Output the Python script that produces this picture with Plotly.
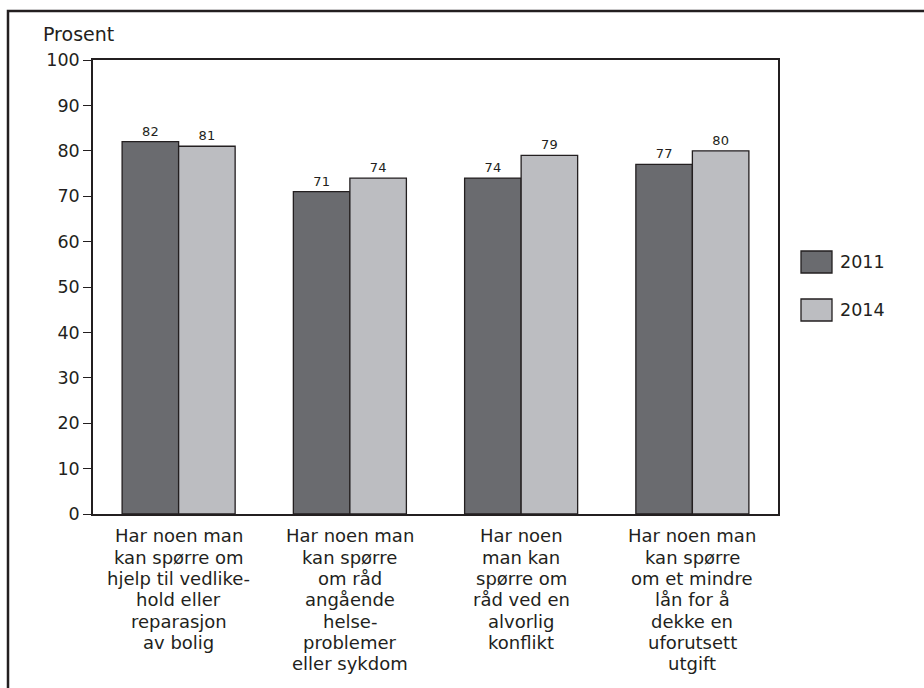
import plotly.graph_objects as go

categories = [
    "Har noen man<br>kan spørre om<br>hjelp til vedlike-<br>hold eller<br>reparasjon<br>av bolig",
    "Har noen man<br>kan spørre<br>om råd<br>angående<br>helse-<br>problemer<br>eller sykdom",
    "Har noen<br>man kan<br>spørre om<br>råd ved en<br>alvorlig<br>konflikt",
    "Har noen man<br>kan spørre<br>om et mindre<br>lån for å<br>dekke en<br>uforutsett<br>utgift",
]
values_2011 = [82, 71, 74, 77]
values_2014 = [81, 74, 79, 80]
series_names = ["2011", "2014"]
yticks = [0, 10, 20, 30, 40, 50, 60, 70, 80, 90, 100]

FONT = "DejaVu Sans, sans-serif"
TXT = "#231f20"
DARK = "#6a6b6f"
LIGHT = "#bcbdc1"

fig = go.Figure()
for name, vals, col in [(series_names[0], values_2011, DARK), (series_names[1], values_2014, LIGHT)]:
    fig.add_trace(go.Bar(
        x=categories, y=vals, name=name,
        marker=dict(color=col, line=dict(color=TXT, width=1.3)),
        text=[str(v) for v in vals], textposition="outside",
        textfont=dict(size=13, color=TXT, family=FONT),
        cliponaxis=False, showlegend=False,
    ))

W, H = 924, 688
L, R, T, B = 93, 146, 60, 174
pw, ph = W - L - R, H - T - B

def px(x):
    return (x - L) / pw

def py(y):
    return (H - B - y) / ph

shapes = [
    dict(type="rect", xref="paper", yref="paper", x0=px(8), x1=px(940), y0=py(705), y1=py(11),
         line=dict(color="#231f20", width=2.5), fillcolor="rgba(0,0,0,0)", layer="below"),
]
annotations = [
    dict(text="Prosent", xref="paper", yref="paper", x=px(41), y=py(34), xanchor="left", yanchor="middle",
         showarrow=False, font=dict(size=19, color=TXT, family=FONT)),
]
for i, (name, col) in enumerate(zip(series_names, [DARK, LIGHT])):
    yc = 262 + i * 48
    shapes.append(dict(type="rect", xref="paper", yref="paper", x0=px(801), x1=px(832),
                       y0=py(yc + 11), y1=py(yc - 11), fillcolor=col, line=dict(color=TXT, width=1.3)))
    annotations.append(dict(text=name, xref="paper", yref="paper", x=px(838), y=py(yc),
                            xanchor="left", yanchor="middle", showarrow=False,
                            font=dict(size=17.5, color=TXT, family=FONT)))

# category labels, one annotation per line for tight line spacing
for cat in categories:
    for k, line in enumerate(cat.split("<br>")):
        annotations.append(dict(text=line, xref="x", yref="paper", x=cat, y=py(535.8 + 21.3 * k),
                                xanchor="center", yanchor="middle", showarrow=False,
                                font=dict(size=18, color=TXT, family=FONT)))

fig.update_layout(
    width=W, height=H,
    margin=dict(l=L, r=R, t=T, b=B),
    paper_bgcolor="white", plot_bgcolor="white",
    barmode="group", bargap=0.34, bargroupgap=0,
    font=dict(family=FONT, color=TXT),
    shapes=shapes, annotations=annotations,
    xaxis=dict(showline=True, linecolor=TXT, linewidth=1.8, mirror=True, ticks="",
               showticklabels=False, showgrid=False),
    yaxis=dict(range=[0, 100], tickvals=yticks, showline=True, linecolor=TXT, linewidth=1.5,
               mirror=True, ticks="outside", ticklen=8, tickcolor=TXT, showgrid=False,
               zeroline=False, tickfont=dict(size=17.5, color=TXT, family=FONT)),
)
fig.write_html("out.html", config={"displayModeBar": False},
               post_script="document.body.style.margin='0';document.body.style.overflow='hidden';")
